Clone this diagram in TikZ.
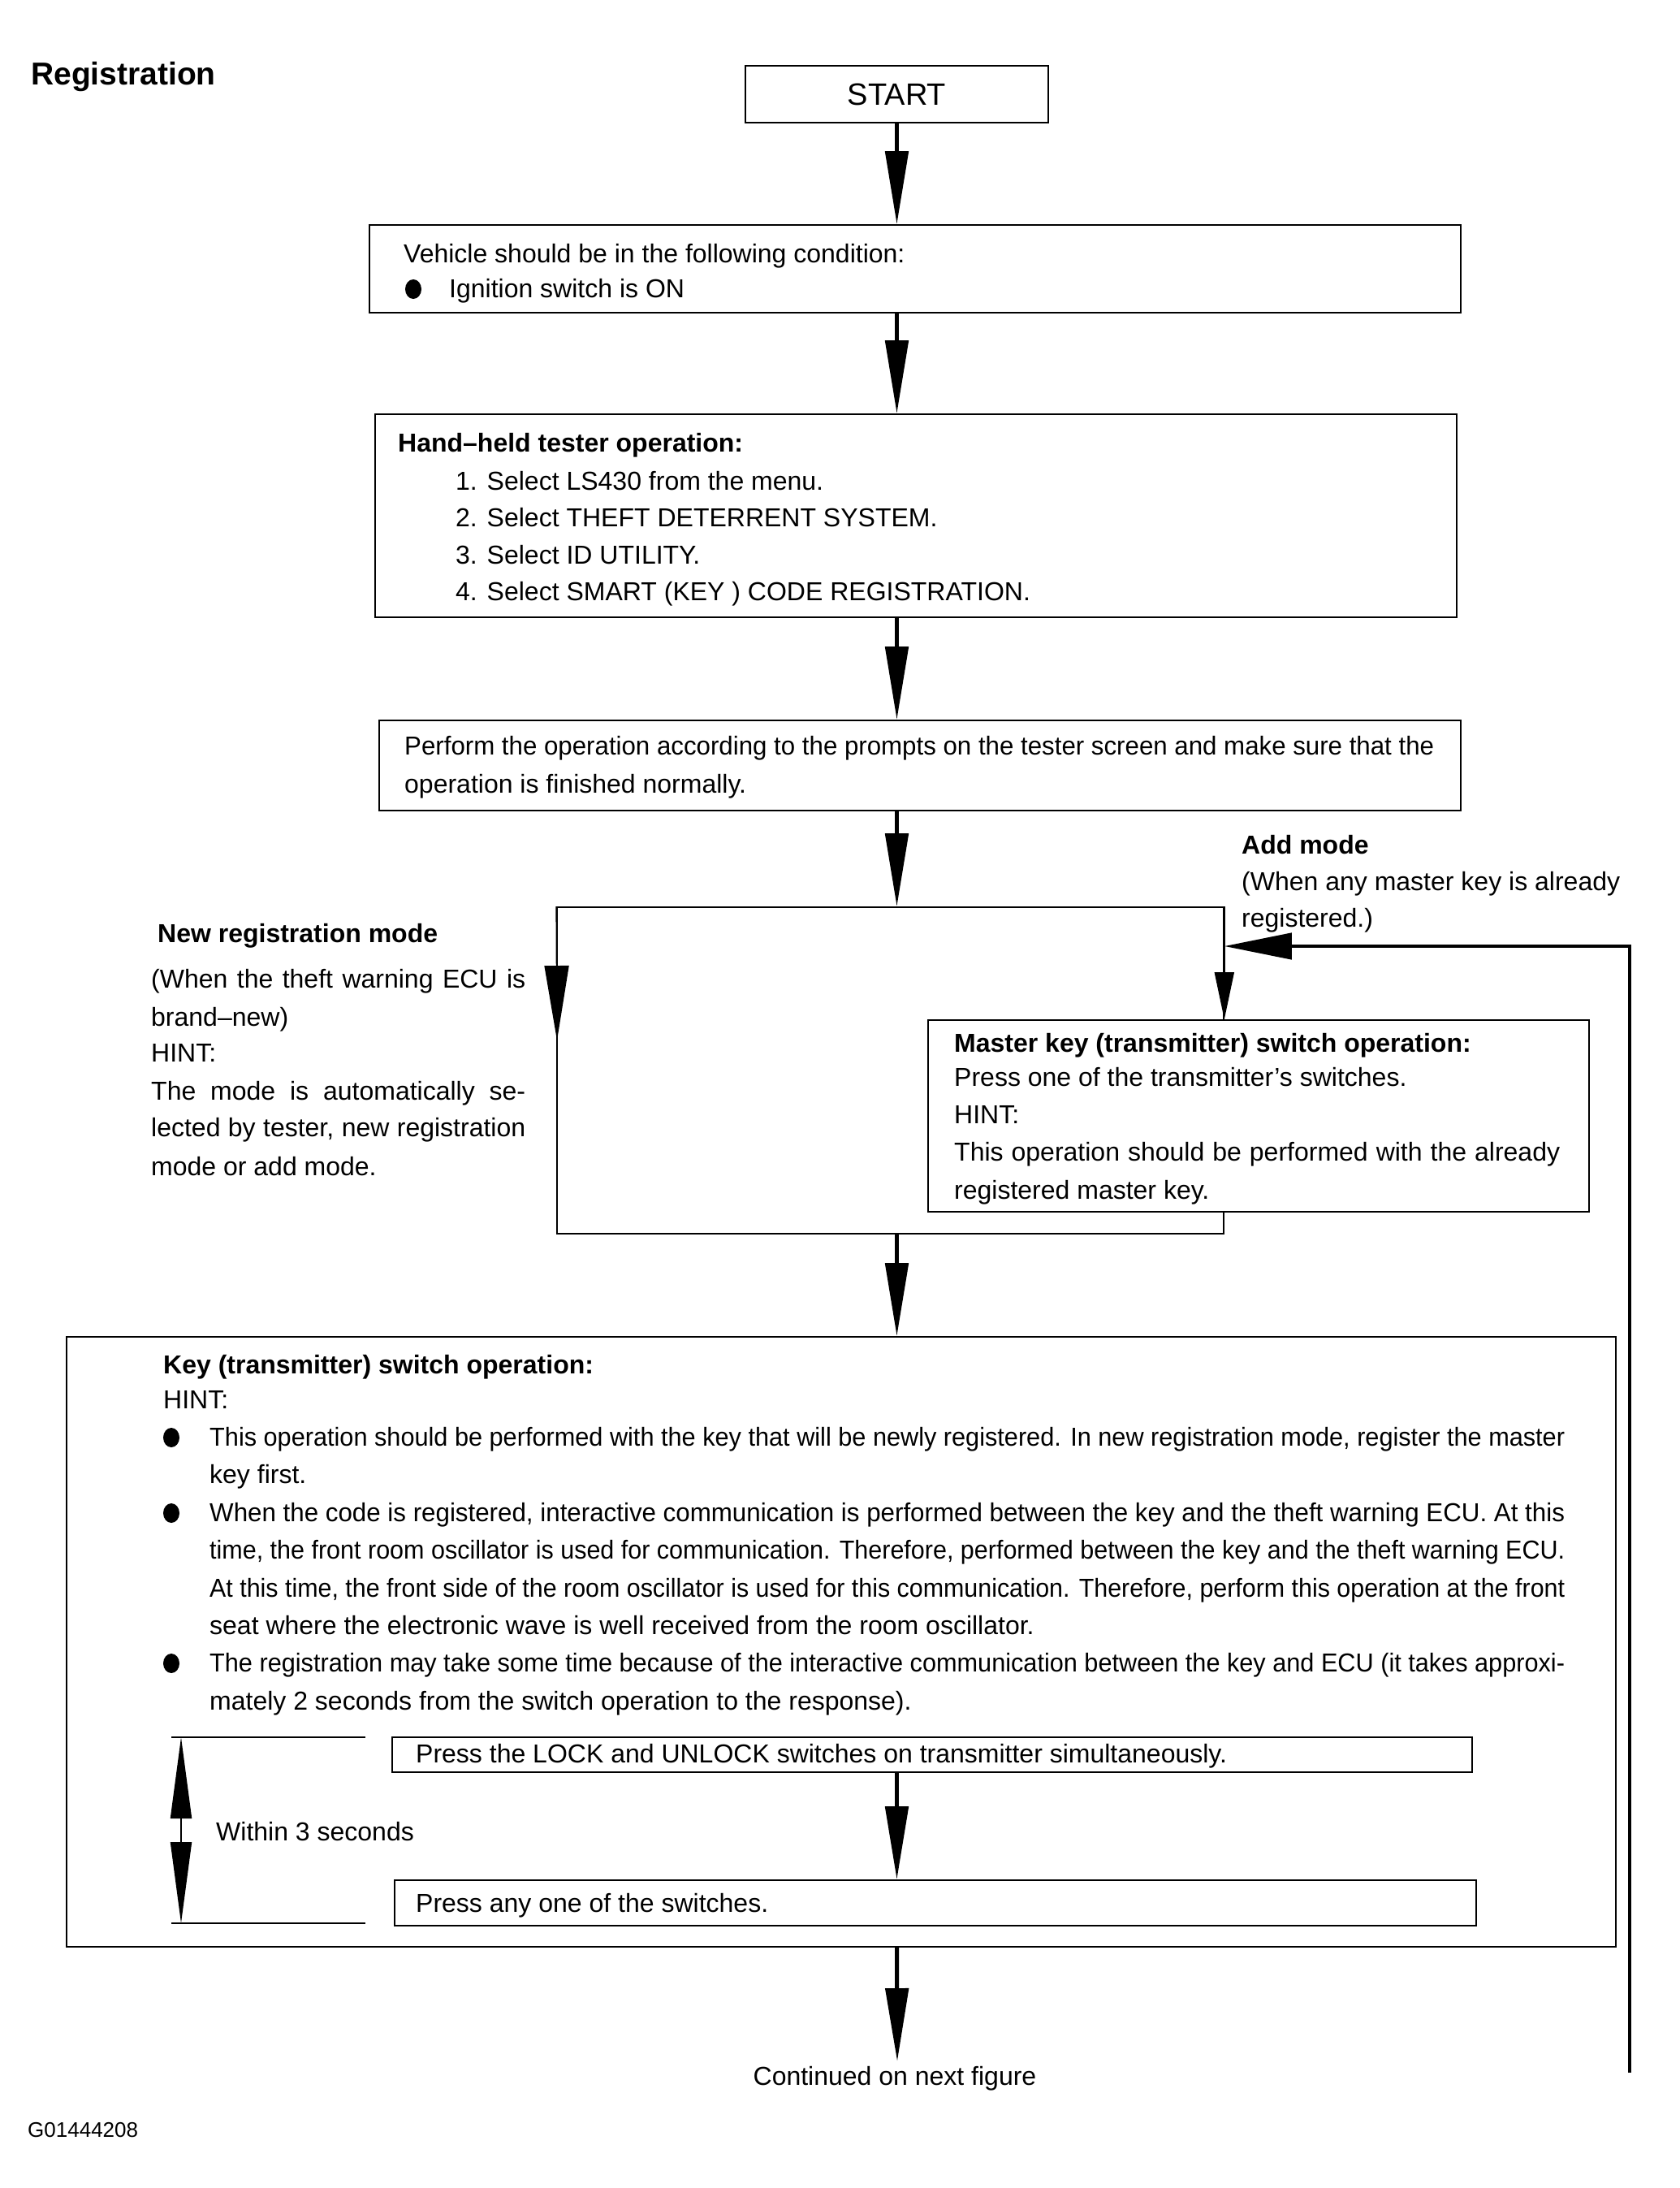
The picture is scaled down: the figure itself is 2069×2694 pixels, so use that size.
\documentclass[tikz,border=0pt]{standalone}
\usepackage{fontspec}
\setmainfont{Liberation Sans}
\usepackage{graphicx}
\usetikzlibrary{arrows.meta}
\newcommand\jw[2]{\setbox0\hbox{#2}\ifdim\wd0>#1pt\relax\resizebox{#1pt}{\height}{#2}\else\makebox[#1pt][s]{#2}\fi}
\begin{document}
\begin{tikzpicture}[x=1pt,y=-1pt,
  box/.style={draw, line width=1.6pt, rectangle, inner sep=0pt, fill=white},
  txtA/.style={anchor=base west, inner sep=0pt, font=\fontsize{32}{38}\selectfont},
  bldA/.style={anchor=base west, inner sep=0pt, font=\fontsize{32}{38}\selectfont\bfseries},
  txtB/.style={anchor=base west, inner sep=0pt, font=\fontsize{32}{38}\selectfont},
  bldB/.style={anchor=base west, inner sep=0pt, font=\fontsize{32}{38}\selectfont\bfseries},
  mainarrow/.style={line width=5pt, -{Triangle[length=90pt,width=28pt]}},
  thinarrow/.style={line width=1.6pt, -{Triangle[length=58pt,width=24pt]}},
  fbarrow/.style={line width=4.5pt, -{Triangle[length=83pt,width=32pt]}},
  thinline/.style={line width=1.6pt},
  bul/.style={fill=black}
]
\useasboundingbox[fill=white] (0,0) rectangle (2069,2694);

% title
\node[anchor=base west, inner sep=0pt, font=\fontsize{39}{44}\selectfont\bfseries] (title) at (38,104) {Registration};

% START
\node[box, minimum width=373pt, minimum height=70pt, font=\fontsize{38}{44}\selectfont] (start) at (1104.5,116) {START};

% condition box
\node[box, minimum width=1344pt, minimum height=108pt] (cond) at (1127,331) {};
\node[txtA] (c1) at (497,323) {Vehicle should be in the following condition:};
\fill[bul] (509,356) ellipse [x radius=10pt, y radius=12pt];
\node[txtA] (c2) at (553,366) {Ignition switch is ON};

% tester box
\node[box, minimum width=1332pt, minimum height=250pt] (tester) at (1128,635) {};
\node[bldA] (h0) at (490,556) {Hand--held tester operation:};
\node[txtA] (h1) at (561,603) {1. Select LS430 from the menu.};
\node[txtA] (h2) at (561,648) {2. Select THEFT DETERRENT SYSTEM.};
\node[txtA] (h3) at (561,694) {3. Select ID UTILITY.};
\node[txtA] (h4) at (561,739) {4. Select SMART (KEY ) CODE REGISTRATION.};

% perform box
\node[box, minimum width=1332pt, minimum height=111pt] (perform) at (1133,942.5) {};
\node[txtA] (p1) at (498,929) {\jw{1268}{Perform the operation according to the prompts on the tester screen and make sure that the}};
\node[txtA] (p2) at (498,976) {operation is finished normally.};

% add mode
\node[bldA] (a0) at (1529,1051) {Add mode};
\node[txtA] (a1) at (1529,1096) {(When any master key is already};
\node[txtA] (a2) at (1529,1141) {registered.)};

% new registration mode
\node[bldA] (n0) at (194,1160) {New registration mode};
\node[txtA] (n1) at (186,1216) {\jw{461}{(When the theft warning ECU is}};
\node[txtA] (n2) at (186,1263) {brand--new)};
\node[txtA] (n3) at (186,1307) {HINT:};
\node[txtA] (n4) at (186,1354) {\jw{461}{The mode is automatically se-}};
\node[txtA] (n5) at (186,1399) {\jw{461}{lected by tester, new registration}};
\node[txtA] (n6) at (186,1447) {mode or add mode.};

% branch frame
\node[draw, thinline, rectangle, inner sep=0pt, minimum width=821pt, minimum height=402pt] (frame) at (1096.5,1318) {};
\coordinate (lefttip) at (686,1281);
\draw[line width=1.6pt, -{Triangle[length=92pt,width=30pt]}] (frame.north west) -- (lefttip);

% master box
\node[box, minimum width=814pt, minimum height=236pt] (master) at (1550,1374) {};
\node[bldB] (m0) at (1175,1295) {Master key (transmitter) switch operation:};
\node[txtB] (m1) at (1175,1337) {Press one of the transmitter’s switches.};
\node[txtB] (m2) at (1175,1383) {HINT:};
\node[txtB] (m3) at (1175,1429) {\jw{746}{This operation should be performed with the already}};
\node[txtB] (m4) at (1175,1476) {registered master key.};
\draw[thinarrow] (frame.north east) -- (master.north -| frame.east);

% feedback line
\coordinate (fbBot) at (2007,2552);
\coordinate (fbTop) at (2007,1165);
\draw[fbarrow] (fbBot) -- (fbTop) -- (fbTop -| frame.east);

% key box
\node[box, minimum width=1908pt, minimum height=751pt] (key) at (1036,2021.5) {};
\node[bldB] (k0) at (201,1691) {Key (transmitter) switch operation:};
\node[txtB] (k1) at (201,1734) {HINT:};
\fill[bul] (211,1770) ellipse [x radius=10pt, y radius=12pt];
\fill[bul] (211,1863) ellipse [x radius=10pt, y radius=12pt];
\fill[bul] (211,2048) ellipse [x radius=10pt, y radius=12pt];
\node[txtB] (b1) at (258,1780) {\jw{1669}{This operation should be performed with the key that will be newly registered. In new registration mode, register the master}};
\node[txtB] (b2) at (258,1826) {key first.};
\node[txtB] (b3) at (258,1873) {\jw{1669}{When the code is registered, interactive communication is performed between the key and the theft warning ECU. At this}};
\node[txtB] (b4) at (258,1919) {\jw{1669}{time, the front room oscillator is used for communication. Therefore, performed between the key and the theft warning ECU.}};
\node[txtB] (b5) at (258,1966) {\jw{1669}{At this time, the front side of the room oscillator is used for this communication. Therefore, perform this operation at the front}};
\node[txtB] (b6) at (258,2012) {seat where the electronic wave is well received from the room oscillator.};
\node[txtB] (b7) at (258,2058) {\jw{1669}{The registration may take some time because of the interactive communication between the key and ECU (it takes approxi-}};
\node[txtB] (b8) at (258,2105) {mately 2 seconds from the switch operation to the response).};

% inner boxes
\node[box, minimum width=1330pt, minimum height=43pt] (pressA) at (1148,2160.5) {};
\node[txtB] (pa) at (512,2170) {Press the LOCK and UNLOCK switches on transmitter simultaneously.};
\node[box, minimum width=1332pt, minimum height=56pt] (pressB) at (1152,2343) {};
\node[txtB] (pb) at (512,2354) {Press any one of the switches.};
\draw[mainarrow] (pressA.south -| start.south) -- (pressB.north -| start.south);

% within 3 seconds bracket
\coordinate (bt1) at (211,2139);
\coordinate (bt2) at (450,2139);
\coordinate (bb1) at (211,2368);
\coordinate (bb2) at (450,2368);
\coordinate (w3top) at (223,2139);
\coordinate (w3bot) at (223,2368);
\draw[thinline] (bt1) -- (bt2);
\draw[thinline] (bb1) -- (bb2);
\draw[line width=2pt, {Triangle[length=100pt,width=26pt]}-{Triangle[length=100pt,width=26pt]}] (w3top) -- (w3bot);
\node[txtB] (w3) at (266,2266) {Within 3 seconds};

% main arrows
\draw[mainarrow] (start.south) -- (cond.north -| start.south);
\draw[mainarrow] (cond.south -| start.south) -- (tester.north -| start.south);
\draw[mainarrow] (tester.south -| start.south) -- (perform.north -| start.south);
\draw[mainarrow] (perform.south -| start.south) -- (frame.north -| start.south);
\draw[mainarrow] (frame.south -| start.south) -- (key.north -| start.south);
\coordinate (outEnd) at (1105,2538);
\draw[mainarrow] (key.south -| start.south) -- (outEnd);

\node[anchor=base, inner sep=0pt, font=\fontsize{32}{38}\selectfont] (cont) at (1102,2567) {Continued on next figure};
\node[anchor=base west, inner sep=0pt, font=\fontsize{26}{30}\selectfont] (code) at (34,2631) {G01444208};
\end{tikzpicture}
\end{document}
